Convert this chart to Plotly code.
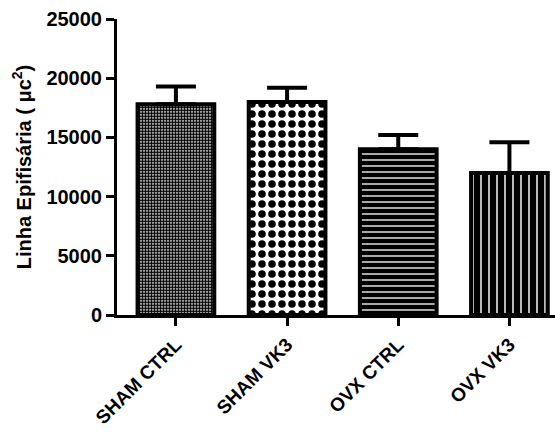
import plotly.graph_objects as go

categories = ["SHAM CTRL", "SHAM VK3", "OVX CTRL", "OVX VK3"]
means = [17800, 18000, 14000, 12000]
sem_plus = [1500, 1200, 1200, 2600]
y_ticks = [0, 5000, 10000, 15000, 20000, 25000]
y_tick_labels = ["0", "5000", "10000", "15000", "20000", "25000"]

pattern_shapes = [".", ".", "-", "|"]
pattern_sizes = [3, 10, 6, 8]
pattern_solidity = [0.7, 0.45, 0.22, 0.18]
pattern_fg = ["black", "black", "white", "white"]
pattern_bg = ["white", "white", "black", "black"]

fig = go.Figure()
for i, c in enumerate(categories):
    fig.add_trace(go.Bar(
        x=[c], y=[means[i]], width=0.69,
        marker=dict(
            color=pattern_bg[i],
            line=dict(color="black", width=4),
            pattern=dict(shape=pattern_shapes[i], size=pattern_sizes[i],
                         solidity=pattern_solidity[i], fgcolor=pattern_fg[i],
                         bgcolor=pattern_bg[i], fillmode="replace"),
        ),
        error_y=dict(type="data", symmetric=False, array=[sem_plus[i]], arrayminus=[0],
                     color="black", thickness=4, width=20),
        showlegend=False,
    ))

font_family = "Liberation Sans, Arial, sans-serif"
fig.update_layout(
    width=555, height=441,
    margin=dict(l=117, r=0, t=19, b=126),
    plot_bgcolor="white", paper_bgcolor="white",
    bargap=0.3,
    xaxis=dict(
        range=[-0.53, 3.41], showline=True, linecolor="black", linewidth=3,
        ticks="outside", ticklen=8, tickwidth=3, tickcolor="black",
        tickangle=-45, showgrid=False, zeroline=False, automargin=False,
        tickfont=dict(family=font_family, size=19, color="black", weight="bold"),
    ),
    yaxis=dict(
        range=[0, 25000], tickvals=y_ticks, ticktext=y_tick_labels,
        showline=True, linecolor="black", linewidth=3,
        ticks="outside", ticklen=8, tickwidth=3, tickcolor="black",
        showgrid=False, zeroline=False, automargin=False,
        tickfont=dict(family=font_family, size=20, color="black", weight="bold"),
        title=dict(text="Linha Epifisária ( μc<sup>2</sup>)", standoff=10,
                   font=dict(family=font_family, size=20, color="black", weight="bold")),
    ),
)

fig.write_html("out.html", config={"displayModeBar": False},
               post_script="document.body.style.margin='0';")
